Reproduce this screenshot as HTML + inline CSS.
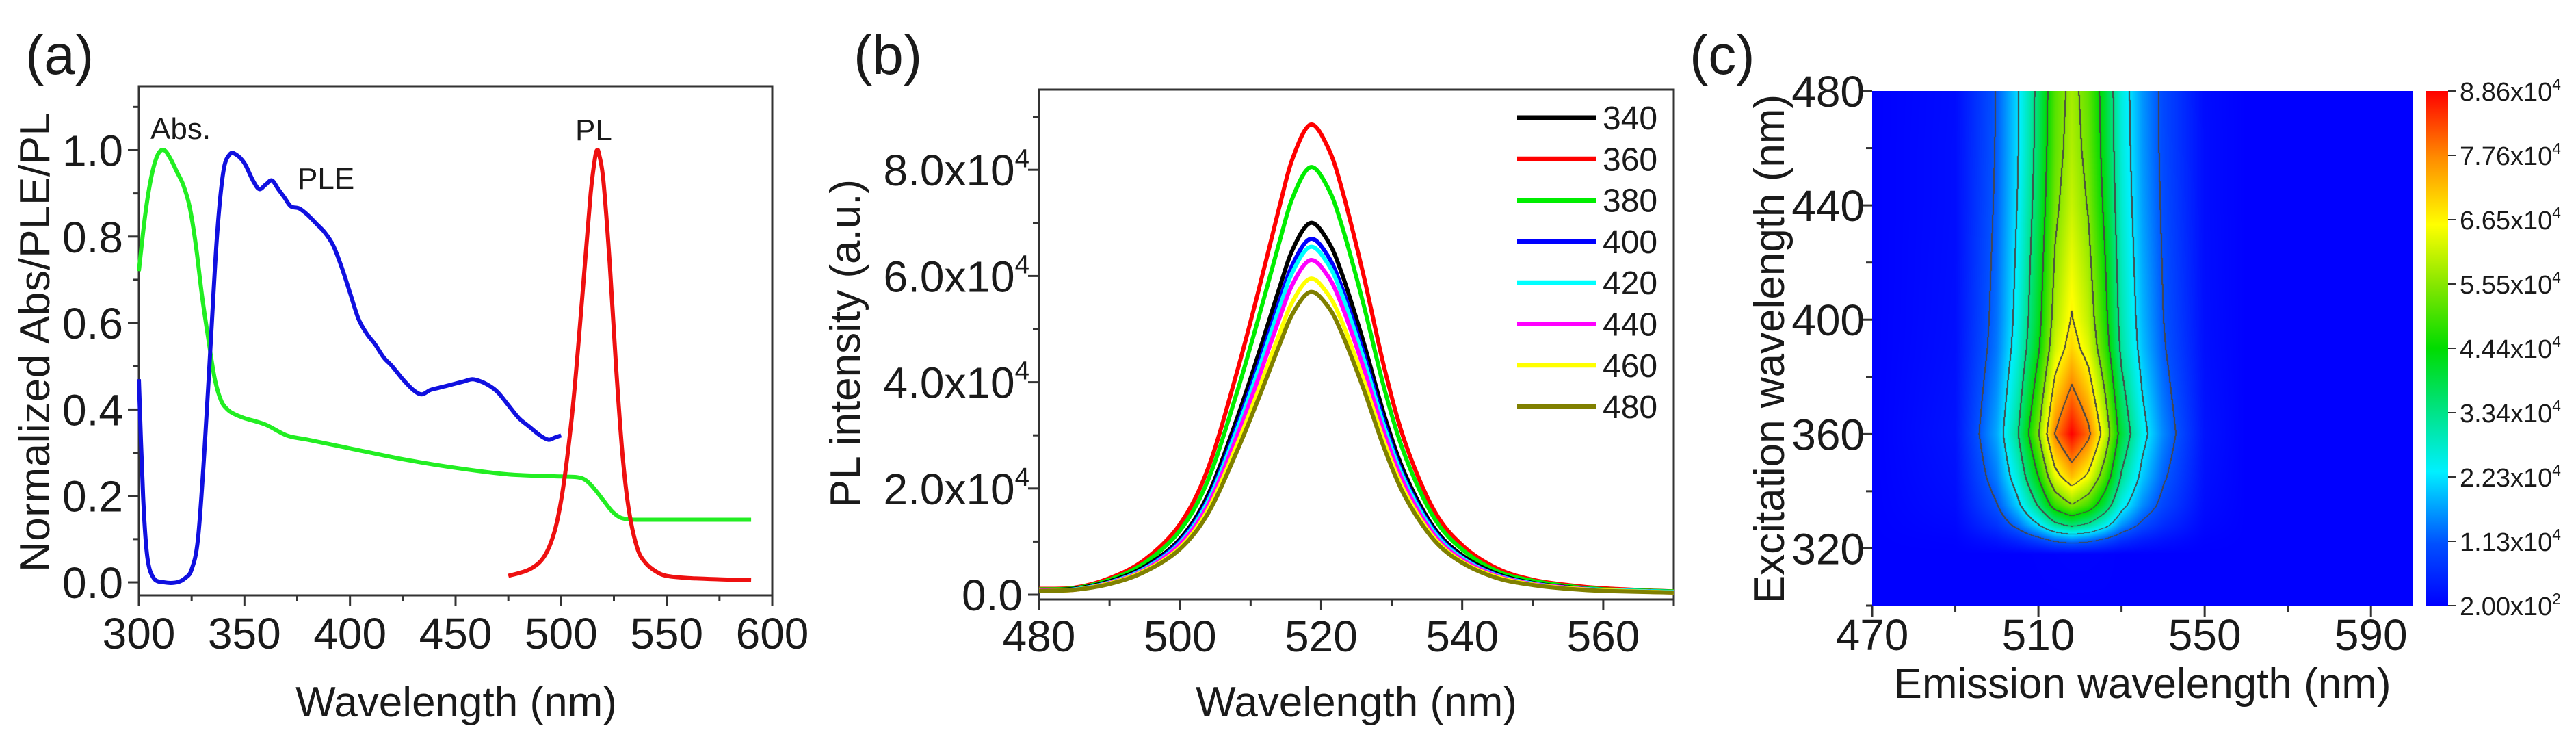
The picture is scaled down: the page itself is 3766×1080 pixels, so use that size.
<!DOCTYPE html>
<html><head><meta charset="utf-8"><style>
html,body{margin:0;padding:0;background:#fff;}
body{width:3766px;height:1080px;position:relative;overflow:hidden;font-family:"Liberation Sans",Arial,sans-serif;}
svg{position:absolute;left:0;top:0;}
#hm{position:absolute;left:2737px;top:133px;}
text{font-family:"Liberation Sans",Arial,sans-serif;fill:#1a1a1a;}
</style></head><body>
<svg id="s" width="3766" height="1080"></svg>
<canvas id="hm" width="790" height="752"></canvas>
<svg id="s2" width="3766" height="1080"></svg>
<script>
// ---------- Panel (a) data ----------
const absX=[300,303,306,309,312,315,318,321,324,327,330,333,336,339,342,345,350,360,370,380,400,425,450,475,500,508,512,516,520,524,528,532,536,545,560,590];
const absY=[0.72,0.85,0.94,0.99,1.0,0.98,0.95,0.92,0.87,0.78,0.66,0.56,0.47,0.42,0.4,0.39,0.38,0.365,0.34,0.33,0.31,0.285,0.265,0.25,0.245,0.243,0.235,0.215,0.19,0.165,0.15,0.146,0.145,0.145,0.145,0.145];
const pleX=[300,302,304,307,312,318,322,325,328,331,334,337,340,343,346,350,354,357,360,363,366,369,372,376,380,384,388,392,396,400,404,408,412,416,420,425,430,434,438,442,446,450,454,458,462,466,470,475,480,485,490,494,497,500];
const pleY=[0.47,0.2,0.06,0.01,0.0,0.0,0.01,0.03,0.1,0.3,0.55,0.8,0.95,0.99,0.99,0.97,0.93,0.91,0.92,0.93,0.91,0.89,0.87,0.865,0.85,0.83,0.81,0.78,0.73,0.67,0.61,0.575,0.55,0.52,0.5,0.47,0.445,0.435,0.445,0.45,0.455,0.46,0.465,0.47,0.465,0.455,0.44,0.41,0.38,0.36,0.34,0.33,0.335,0.34];
const plX=[475,485,492,497,501,505,508,511,514,516,517,518,520,523,526,529,532,536,540,545,550,560,575,590];
const plY=[0.015,0.03,0.06,0.12,0.22,0.38,0.54,0.72,0.9,0.98,1.0,0.99,0.93,0.74,0.5,0.3,0.17,0.08,0.045,0.025,0.015,0.01,0.007,0.005];
const aXTicks=[300,350,400,450,500,550,600];
const aYTicks=[0.0,0.2,0.4,0.6,0.8,1.0];
// ---------- Panel (b) data (x1e4) ----------
const bX=[480,485,490,495,500,504,508,511,514,516,518.5,521,523,526,529,532,536,540,545,550,555,560,570];
const bLabels=["340","360","380","400","420","440","460","480"];
const bColors=["#000000","#ff0000","#00ee00","#0000ff","#00ffff","#ff00ff","#ffff00","#808000"];
const s340=[0.08,0.11,0.25,0.53,1.05,1.89,3.29,4.48,5.74,6.51,7.0,6.65,6.02,4.76,3.36,2.24,1.26,0.74,0.39,0.22,0.14,0.09,0.05];
const s360=[0.11,0.13,0.31,0.66,1.33,2.39,4.16,5.66,7.26,8.23,8.85,8.41,7.61,6.02,4.25,2.83,1.59,0.93,0.49,0.28,0.18,0.12,0.06];
const s380=[0.10,0.12,0.28,0.60,1.21,2.17,3.78,5.15,6.60,7.49,8.05,7.65,6.92,5.47,3.86,2.58,1.45,0.85,0.44,0.26,0.16,0.10,0.06];
const s400=[0.08,0.10,0.23,0.50,1.01,1.81,3.15,4.29,5.49,6.23,6.7,6.37,5.76,4.56,3.22,2.14,1.21,0.70,0.37,0.21,0.13,0.09,0.05];
const s420=[0.08,0.10,0.23,0.49,0.98,1.77,3.08,4.19,5.37,6.09,6.55,6.22,5.63,4.45,3.14,2.10,1.18,0.69,0.36,0.21,0.13,0.09,0.05];
const s440=[0.08,0.09,0.22,0.47,0.95,1.70,2.96,4.03,5.17,5.86,6.3,5.99,5.42,4.28,3.02,2.02,1.13,0.66,0.35,0.20,0.13,0.08,0.04];
const s460=[0.07,0.09,0.21,0.45,0.89,1.61,2.80,3.81,4.88,5.53,5.95,5.65,5.12,4.05,2.86,1.90,1.07,0.62,0.33,0.19,0.12,0.08,0.04];
const s480=[0.07,0.09,0.20,0.43,0.86,1.54,2.68,3.65,4.67,5.30,5.7,5.42,4.90,3.88,2.74,1.82,1.03,0.60,0.31,0.18,0.11,0.07,0.04];
const bXTicks=[480,500,520,540,560];
const bYTicks=[0,2,4,6,8];
// ---------- Panel (c) data (x1e4) ----------
const cEm=[470,490,500,505,510,514,518,522,526,530,535,540,550,560,600];
const cEx=[300,318,323,328,335,345,360,375,390,400,420,440,460,480];
const cZ=[
[0.02,0.02,0.02,0.02,0.02,0.02,0.02,0.02,0.02,0.02,0.02,0.02,0.02,0.02,0.02],
[0.02,0.02,0.02,0.02,0.03,0.04,0.05,0.05,0.04,0.02,0.02,0.02,0.02,0.02,0.02],
[0.02,0.05,0.3,0.56,0.93,1.32,1.5,1.35,1.05,0.68,0.42,0.26,0.05,0.02,0.02],
[0.02,0.11,0.7,1.3,2.17,3.08,3.5,3.15,2.45,1.58,0.98,0.6,0.11,0.02,0.02],
[0.02,0.17,1.1,2.04,3.41,4.84,5.5,4.95,3.85,2.48,1.54,0.94,0.17,0.02,0.02],
[0.02,0.22,1.44,2.66,4.46,6.34,7.2,6.48,5.04,3.24,2.02,1.22,0.22,0.02,0.02],
[0.02,0.27,1.77,3.28,5.49,7.8,8.86,7.97,6.2,3.99,2.48,1.51,0.27,0.02,0.02],
[0.02,0.24,1.58,2.92,4.9,6.95,7.9,7.11,5.53,3.56,2.21,1.34,0.24,0.02,0.02],
[0.02,0.21,1.4,2.59,4.34,6.16,7.0,6.3,4.9,3.15,1.96,1.19,0.21,0.02,0.02],
[0.02,0.2,1.34,2.48,4.15,5.9,6.7,6.03,4.69,3.02,1.88,1.14,0.2,0.02,0.02],
[0.02,0.19,1.28,2.37,3.97,5.63,6.4,5.76,4.48,2.88,1.79,1.09,0.19,0.02,0.02],
[0.02,0.18,1.22,2.26,3.78,5.37,6.1,5.49,4.27,2.75,1.71,1.04,0.18,0.02,0.02],
[0.02,0.18,1.18,2.18,3.66,5.19,5.9,5.31,4.13,2.66,1.65,1.0,0.18,0.02,0.02],
[0.02,0.17,1.16,2.15,3.6,5.1,5.8,5.22,4.06,2.61,1.62,0.99,0.17,0.02,0.02]];
const cXTicks=[470,510,550,590];
const cYTicks=[320,360,400,440,480];
const cbLabels=["8.86","7.76","6.65","5.55","4.44","3.34","2.23","1.13","2.00"];
const cbExp=["4","4","4","4","4","4","4","4","2"];
const cLevels=[1.13,2.23,3.34,4.44,5.55,6.65,7.76];

const NS="http://www.w3.org/2000/svg";
const S=document.getElementById('s'), S2=document.getElementById('s2');
function el(tag,attrs,parent){const e=document.createElementNS(NS,tag);for(const k in attrs)e.setAttribute(k,attrs[k]);(parent||S).appendChild(e);return e;}
function txt(x,y,str,size,anchor,parent){const t=el('text',{x:x,y:y,'font-size':size,'text-anchor':anchor||'middle'},parent);t.textContent=str;return t;}
function sciText(x,y,mant,exp,size,anchor,parent){const t=el('text',{x:x,y:y,'font-size':size,'text-anchor':anchor},parent);
 const a=document.createElementNS(NS,'tspan');a.textContent=mant+'x10';t.appendChild(a);
 const b=document.createElementNS(NS,'tspan');b.setAttribute('font-size',size*0.6);b.setAttribute('dy',-size*0.42);b.textContent=exp;t.appendChild(b);return t;}
function smooth(pts){let d='M'+pts[0][0].toFixed(1)+','+pts[0][1].toFixed(1);
 for(let i=0;i<pts.length-1;i++){const p0=pts[i-1]||pts[i],p1=pts[i],p2=pts[i+1],p3=pts[i+2]||p2;
  const c1=[p1[0]+(p2[0]-p0[0])/6,p1[1]+(p2[1]-p0[1])/6],c2=[p2[0]-(p3[0]-p1[0])/6,p2[1]-(p3[1]-p1[1])/6];
  d+='C'+c1[0].toFixed(1)+','+c1[1].toFixed(1)+' '+c2[0].toFixed(1)+','+c2[1].toFixed(1)+' '+p2[0].toFixed(1)+','+p2[1].toFixed(1);}
 return d;}
const AX='#333';

// ===== Panel (a) =====
{const L=203,R=1129,T=126,B=870,x0=300,x1=600,y0=-0.03,y1=1.148;
 const X=v=>L+(v-x0)/(x1-x0)*(R-L), Y=v=>B-(v-y0)/(y1-y0)*(B-T);
 const g=el('g',{});
 const lab=txt(37,108,'(a)',82,'start',g);
 const fr=el('rect',{x:L,y:T,width:R-L,height:B-T,fill:'none',stroke:AX,'stroke-width':3},g);
 for(let v=300;v<=600;v+=25){const x=X(v);el('line',{x1:x,y1:B,x2:x,y2:B+(v%50===0?16:9),stroke:AX,'stroke-width':3},g);}
 aXTicks.forEach(v=>{const t=txt(X(v),948,String(v),64,'middle',g);});
 for(let k=0;k<=11;k++){const v=k/10,y=Y(v);el('line',{x1:L,y1:y,x2:L-(k%2===0?16:9),y2:y,stroke:AX,'stroke-width':3},g);}
 aYTicks.forEach(v=>{const t=txt(180,Y(v)+23,v.toFixed(1),64,'end',g);});
 const xt=txt(667,1047,'Wavelength (nm)',62,'middle',g);
 const yt=txt(0,0,'Normalized Abs/PLE/PL',62,'middle',g);yt.setAttribute('transform','translate(72,500) rotate(-90)');yt.setAttribute('textLength','672');
 const series=[[absX,absY,'#22ee22','abs-curve'],[pleX,pleY,'#1010e0','ple-curve'],[plX,plY,'#ee1010','pl-curve']];
 series.forEach(s=>{const p=el('path',{d:smooth(s[0].map((x,i)=>[X(x),Y(s[1][i])])),fill:'none',stroke:s[2],'stroke-width':6,'stroke-linejoin':'round'},g);});
 const t1=txt(220,203,'Abs.',44,'start',g);
 const t2=txt(435,276,'PLE',44,'start',g);
 const t3=txt(841,205,'PL',44,'start',g);
}

// ===== Panel (b) =====
{const L=1519,R=2447,T=131,B=876,x0=480,x1=570,y0=-0.09,y1=9.51;
 const X=v=>L+(v-x0)/(x1-x0)*(R-L), Y=v=>B-(v-y0)/(y1-y0)*(B-T);
 const g=el('g',{});
 const lab=txt(1248,108,'(b)',82,'start',g);
 const fr=el('rect',{x:L,y:T,width:R-L,height:B-T,fill:'none',stroke:AX,'stroke-width':3},g);
 for(let v=480;v<=570;v+=10){const x=X(v);el('line',{x1:x,y1:B,x2:x,y2:B+(v%20===0?16:9),stroke:AX,'stroke-width':3},g);}
 bXTicks.forEach(v=>{const t=txt(X(v),952,String(v),64,'middle',g);});
 for(let v=0;v<=9;v+=1){const y=Y(v);el('line',{x1:L,y1:y,x2:L-(v%2===0?16:9),y2:y,stroke:AX,'stroke-width':3},g);}
 bYTicks.forEach(v=>{let t;if(v===0)t=txt(1495,Y(v)+23,'0.0',64,'end',g);else t=sciText(1505,Y(v)+23,v.toFixed(1),'4',64,'end',g);});
 const xt=txt(1983,1047,'Wavelength (nm)',62,'middle',g);
 const yt=txt(0,0,'PL intensity (a.u.)',62,'middle',g);yt.setAttribute('transform','translate(1257,502) rotate(-90)');
 const all=[s340,s360,s380,s400,s420,s440,s460,s480];
 const order=[1,2,0,3,4,5,6,7];
 order.forEach(i=>{const p=el('path',{d:smooth(bX.map((x,j)=>[X(x),Y(all[i][j])])),fill:'none',stroke:bColors[i],'stroke-width':6,'stroke-linejoin':'round'},g);});
 bLabels.forEach((lb,i)=>{const y=172+i*60.3;const lg=el('g',{},g);
  el('line',{x1:2218,y1:y,x2:2334,y2:y,stroke:bColors[i],'stroke-width':7},lg);txt(2343,y+17,lb,48,'start',lg);});
}

// ===== Panel (c) =====
const cL=2737,cR=3527,cT=133,cB=885,ex0=300,ex1=480,em0=470,em1=600;
const CX=v=>cL+(v-em0)/(em1-em0)*(cR-cL), CY=v=>cB-(v-ex0)/(ex1-ex0)*(cB-cT);
const stops=[[0,[0,0,255]],[0.12,[0,80,255]],[0.26,[0,240,255]],[0.4,[0,225,110]],[0.5,[0,220,0]],[0.62,[130,230,0]],[0.74,[255,255,0]],[0.87,[255,140,0]],[1,[255,0,0]]];
function cmap(t){t=Math.max(0,Math.min(1,t));for(let i=0;i<stops.length-1;i++){if(t<=stops[i+1][0]){const f=(t-stops[i][0])/(stops[i+1][0]-stops[i][0]);const a=stops[i][1],b=stops[i+1][1];return [a[0]+(b[0]-a[0])*f,a[1]+(b[1]-a[1])*f,a[2]+(b[2]-a[2])*f];}}return stops[stops.length-1][1];}
function findIdx(arr,v){for(let i=0;i<arr.length-1;i++)if(v<=arr[i+1])return i;return arr.length-2;}
function zAt(em,ex){const i=findIdx(cEx,ex),j=findIdx(cEm,em);
 const fy=Math.max(0,Math.min(1,(ex-cEx[i])/(cEx[i+1]-cEx[i]))),fx=Math.max(0,Math.min(1,(em-cEm[j])/(cEm[j+1]-cEm[j])));
 return cZ[i][j]*(1-fx)*(1-fy)+cZ[i][j+1]*fx*(1-fy)+cZ[i+1][j]*(1-fx)*fy+cZ[i+1][j+1]*fx*fy;}
{const cv=document.getElementById('hm'),ctx=cv.getContext('2d'),W=cv.width,H=cv.height;
 const img=ctx.createImageData(W,H);const zmin=0.02,zmax=8.86;
 const band=new Int8Array(W*H);
 for(let py=0;py<H;py++){const ex=ex1-(py+0.5)/H*(ex1-ex0);
  for(let px=0;px<W;px++){const em=em0+(px+0.5)/W*(em1-em0);const z=zAt(em,ex);
   let b=0;for(const l of cLevels)if(z>=l)b++;band[py*W+px]=b;
   const c=cmap((z-zmin)/(zmax-zmin));const k=(py*W+px)*4;img.data[k]=c[0];img.data[k+1]=c[1];img.data[k+2]=c[2];img.data[k+3]=255;}}
 for(let py=0;py<H-1;py++)for(let px=0;px<W-1;px++){const b=band[py*W+px];
  if(b!==band[py*W+px+1]||b!==band[(py+1)*W+px]){for(const k of [(py*W+px)*4,((py)*W+px+1)*4]){img.data[k]=70;img.data[k+1]=70;img.data[k+2]=70;}}}
 ctx.putImageData(img,0,0);}
{const g=el('g',{},S2);
 const lab=txt(2470,108,'(c)',82,'start',g);
 for(let v=470;v<=600;v+=20){const x=CX(v);el('line',{x1:x,y1:cB,x2:x,y2:cB+((v-470)%40===0?16:9),stroke:AX,'stroke-width':3},g);}
 cXTicks.forEach(v=>{const t=txt(CX(v),950,String(v),64,'middle',g);});
 for(let v=300;v<=480;v+=20){const y=CY(v);el('line',{x1:cL,y1:y,x2:cL-((v-320)%40===0?16:9),y2:y,stroke:AX,'stroke-width':3},g);}
 cYTicks.forEach(v=>{const t=txt(2726,CY(v)+23,String(v),64,'end',g);});
 const xt=txt(3132,1020,'Emission wavelength (nm)',62,'middle',g);
 const yt=txt(0,0,'Excitation wavelength (nm)',62,'middle',g);yt.setAttribute('transform','translate(2608,510) rotate(-90)');
 const defs=el('defs',{},g);const lg=el('linearGradient',{id:'cbg',x1:0,y1:1,x2:0,y2:0},defs);
 stops.forEach(s=>el('stop',{offset:s[0],'stop-color':'rgb('+s[1].map(Math.round).join(',')+')'},lg));
 const cb=el('rect',{x:3547,y:cT,width:32,height:cB-cT,fill:'url(#cbg)'},g);
 cbLabels.forEach((m,i)=>{const y=cT+i*(cB-cT)/8;el('line',{x1:3579,y1:y,x2:3590,y2:y,stroke:AX,'stroke-width':2},g);
  const t=sciText(3596,y+14,m,cbExp[i],38,'start',g);});
}
</script>
</body></html>
